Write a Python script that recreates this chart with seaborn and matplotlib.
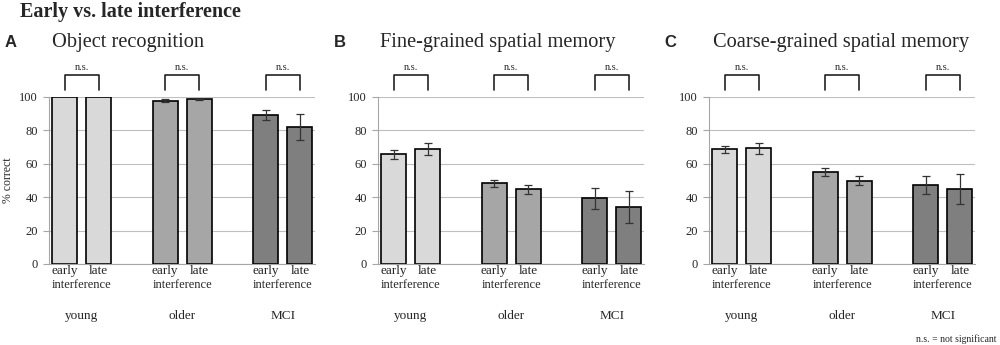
import numpy as np
import pandas as pd
import matplotlib
matplotlib.use('Agg')
import matplotlib.pyplot as plt
import seaborn as sns

sns.set_style('white')
plt.rcParams['font.family'] = ['Liberation Serif', 'DejaVu Serif']

# ---------------- data ----------------
groups = ['young', 'older', 'MCI']
timings = ['early', 'late']
bar_colors = ['#d9d9d9', '#a6a6a6', '#7f7f7f']

panel_letters = ['A', 'B', 'C']
panel_titles = ['Object recognition', 'Fine-grained spatial memory',
                'Coarse-grained spatial memory']

object_early = [100.0, 97.8, 89.2]
object_late = [100.0, 98.6, 82.0]
object_early_err = [0.0, 1.0, 3.2]
object_late_err = [0.0, 0.4, 7.5]

fine_early = [65.6, 48.3, 39.2]
fine_late = [69.0, 44.7, 34.2]
fine_early_err = [2.6, 2.2, 6.5]
fine_late_err = [3.6, 2.8, 9.7]

coarse_early = [68.6, 55.0, 47.2]
coarse_late = [69.2, 49.8, 44.8]
coarse_early_err = [2.2, 2.4, 5.6]
coarse_late_err = [3.3, 2.8, 9.0]

yticks = [0, 20, 40, 60, 80, 100]
sig_labels = ['n.s.', 'n.s.', 'n.s.']

panel_data = [
    (object_early, object_late, object_early_err, object_late_err),
    (fine_early, fine_late, fine_early_err, fine_late_err),
    (coarse_early, coarse_late, coarse_early_err, coarse_late_err),
]

# ---------------- figure ----------------
fig = plt.figure(figsize=(10, 3.45), dpi=100)
lefts = [0.049, 0.378, 0.709]
letter_x = [0.005, 0.334, 0.664]
title_x = [0.052, 0.380, 0.713]

fig.text(0.02, 0.965, 'Early vs. late interference', fontsize=14.5,
         fontweight='bold', ha='left', va='center')

for i, (early, late, early_err, late_err) in enumerate(panel_data):
    ax = fig.add_axes([lefts[i], 0.235, 0.266, 0.484])
    df = pd.DataFrame({
        'group': groups * 2,
        'timing': ['early'] * 3 + ['late'] * 3,
        'value': early + late,
        'err': early_err + late_err,
    })
    sns.barplot(data=df, x='group', y='value', hue='timing', order=groups,
                hue_order=timings, palette=['#d9d9d9', '#d9d9d9'],
                width=0.68, gap=0.265, edgecolor='black', linewidth=1.2,
                errorbar=None, legend=False, ax=ax)

    trans = ax.get_xaxis_transform()
    centers = {}
    for p in ax.patches:
        cx = p.get_x() + p.get_width() / 2
        gi = int(round(cx))
        t = 'early' if cx < gi else 'late'
        p.set_facecolor(bar_colors[gi])
        centers[(gi, t)] = cx
        row = df[(df.group == groups[gi]) & (df.timing == t)].iloc[0]
        if row.err > 0:
            ax.errorbar(cx, row.value, yerr=row.err, color='#333333',
                        lw=0.9, capsize=3, capthick=0.9, zorder=5)
        ax.text(cx, -0.042, t, transform=trans, ha='center', va='center',
                fontsize=9.5)

    for gi, g in enumerate(groups):
        x0, x1 = centers[(gi, 'early')], centers[(gi, 'late')]
        ax.plot([x0, x0, x1, x1], [104, 113, 113, 104], color='#222222',
                lw=1.2, clip_on=False)
        ax.text(gi, 117.5, sig_labels[gi], ha='center', va='center',
                fontsize=7.5)
        ax.text(gi, -0.126, 'interference', transform=trans, ha='center',
                va='center', fontsize=9)
        ax.text(gi, -0.31, g, transform=trans, ha='center', va='center',
                fontsize=9.5)

    ax.set_xlim(-0.325, 2.32)
    ax.set_ylim(0, 100)
    ax.set_yticks(yticks)
    ax.set_xticks([])
    ax.set_xlabel('')
    ax.set_ylabel('')
    ax.yaxis.grid(True, color='#bfbfbf', lw=0.8)
    ax.set_axisbelow(True)
    for s in ['top', 'right']:
        ax.spines[s].set_visible(False)
    ax.spines['left'].set_color('#a6a6a6')
    ax.spines['bottom'].set_color('#a6a6a6')
    ax.tick_params(axis='y', length=4.5, color='#a6a6a6', labelsize=9,
                   pad=3.5, left=True)

    fig.text(letter_x[i], 0.878, panel_letters[i], fontsize=12,
             fontweight='bold', family=['Liberation Sans', 'DejaVu Sans'],
             ha='left', va='center')
    fig.text(title_x[i], 0.878, panel_titles[i], fontsize=14.7,
             ha='left', va='center')

fig.text(0.008, 0.478, '% correct', rotation=90, fontsize=8.5,
         ha='center', va='center')
fig.text(0.997, 0.017, 'n.s. = not significant', fontsize=7,
         ha='right', va='center')

fig.savefig('out.png', dpi=100)
